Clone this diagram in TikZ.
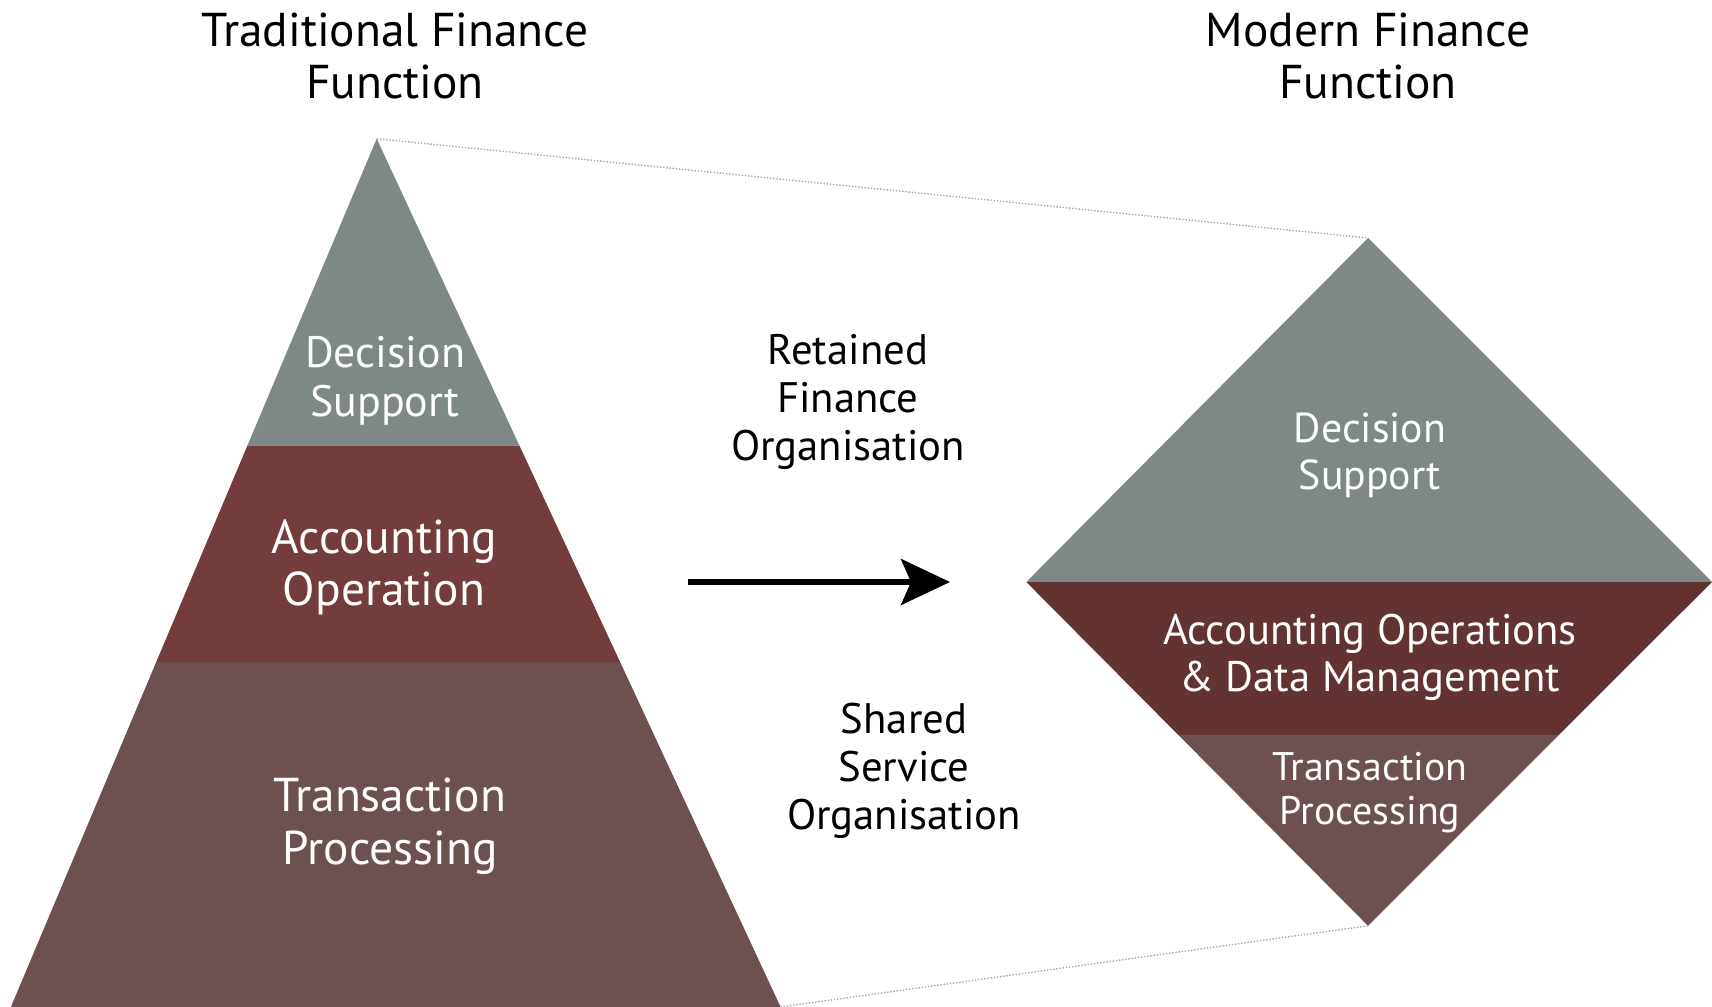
\documentclass[tikz,border=0pt]{standalone}
\usepackage{fontspec}
\setmainfont{PT Sans}
\usetikzlibrary{calc,arrows.meta}

\definecolor{dsgrey}{HTML}{7E8987}
\definecolor{accred}{HTML}{743C3C}
\definecolor{accdark}{HTML}{633232}
\definecolor{tpbrown}{HTML}{6D5050}

\begin{document}
\begin{tikzpicture}[x=0.02cm,y=-0.02cm,
    head/.style={align=center,font=\fontsize{27}{29.6}\selectfont},
    mid/.style={align=center,font=\fontsize{24.3}{27.3}\selectfont},
    band/.style={align=center,text=white}]
    \useasboundingbox (0,0) rectangle (1712,1007);
    % traditional pyramid
    \coordinate (apex) at (376.7,138.7);
    \coordinate (bl) at (10.9,1007);
    \coordinate (br) at (780.6,1007);
    \coordinate (pl1) at ($(apex)!0.3535!(bl)$);
    \coordinate (pr1) at ($(apex)!0.3535!(br)$);
    \coordinate (pl2) at ($(apex)!0.6024!(bl)$);
    \coordinate (pr2) at ($(apex)!0.6024!(br)$);
    \fill[dsgrey] (apex) -- (pl1) -- (pr1) -- cycle;
    \fill[accred] (pl1) -- (pl2) -- (pr2) -- (pr1) -- cycle;
    \fill[tpbrown] (pl2) -- (bl) -- (br) -- (pr2) -- cycle;
    % modern diamond
    \coordinate (dtop) at (1368,238);
    \coordinate (dl) at (1026.3,582);
    \coordinate (dr) at (1712,582);
    \coordinate (dbot) at (1368,925.8);
    \coordinate (ql) at ($(dl)!0.4444!(dbot)$);
    \coordinate (qr) at ($(dr)!0.4444!(dbot)$);
    \fill[dsgrey] (dtop) -- (dl) -- (dr) -- cycle;
    \fill[accdark] (dl) -- (ql) -- (qr) -- (dr) -- cycle;
    \fill[tpbrown] (ql) -- (dbot) -- (qr) -- cycle;
    % dotted guides
    \draw[gray!70,densely dotted,line width=0.8pt] (apex) -- (dtop);
    \draw[gray!70,densely dotted,line width=0.8pt] (br) -- (dbot);
    % headings
    \node[head] (trad) at (395,56) {Traditional Finance\\Function};
    \node[head] (modern) at (1368,56) {Modern Finance\\Function};
    % pyramid labels
    \node[band,font=\fontsize{25}{27.9}\selectfont] (pds) at (385,380.5) {Decision\\Support};
    \node[band,font=\fontsize{27}{29.6}\selectfont] (pao) at (384,567) {Accounting\\Operation};
    \node[band,font=\fontsize{27}{30}\selectfont] (ptp) at (390,826.5) {Transaction\\Processing};
    % middle
    \node[mid] (rfo) at (848,401.5) {Retained\\Finance\\Organisation};
    \node[mid] (sso) at (904,770.5) {Shared\\Service\\Organisation};
    \coordinate (from) at (688,582);
    \coordinate (to) at (950,582);
    \draw[line width=3.1pt,-{Stealth[length=0.98cm,width=0.92cm,inset=0.2cm]}] (from) -- (to);
    % diamond labels
    \node[band,font=\fontsize{23.8}{26.8}\selectfont] (mds) at (1370,455) {Decision\\Support};
    \node[band,font=\fontsize{24.3}{26.8}\selectfont] (mao) at (1370,657.5) {Accounting Operations\\\& Data Management};
    \node[band,font=\fontsize{22.7}{25}\selectfont] (mtp) at (1370,793) {Transaction\\Processing};
\end{tikzpicture}
\end{document}
